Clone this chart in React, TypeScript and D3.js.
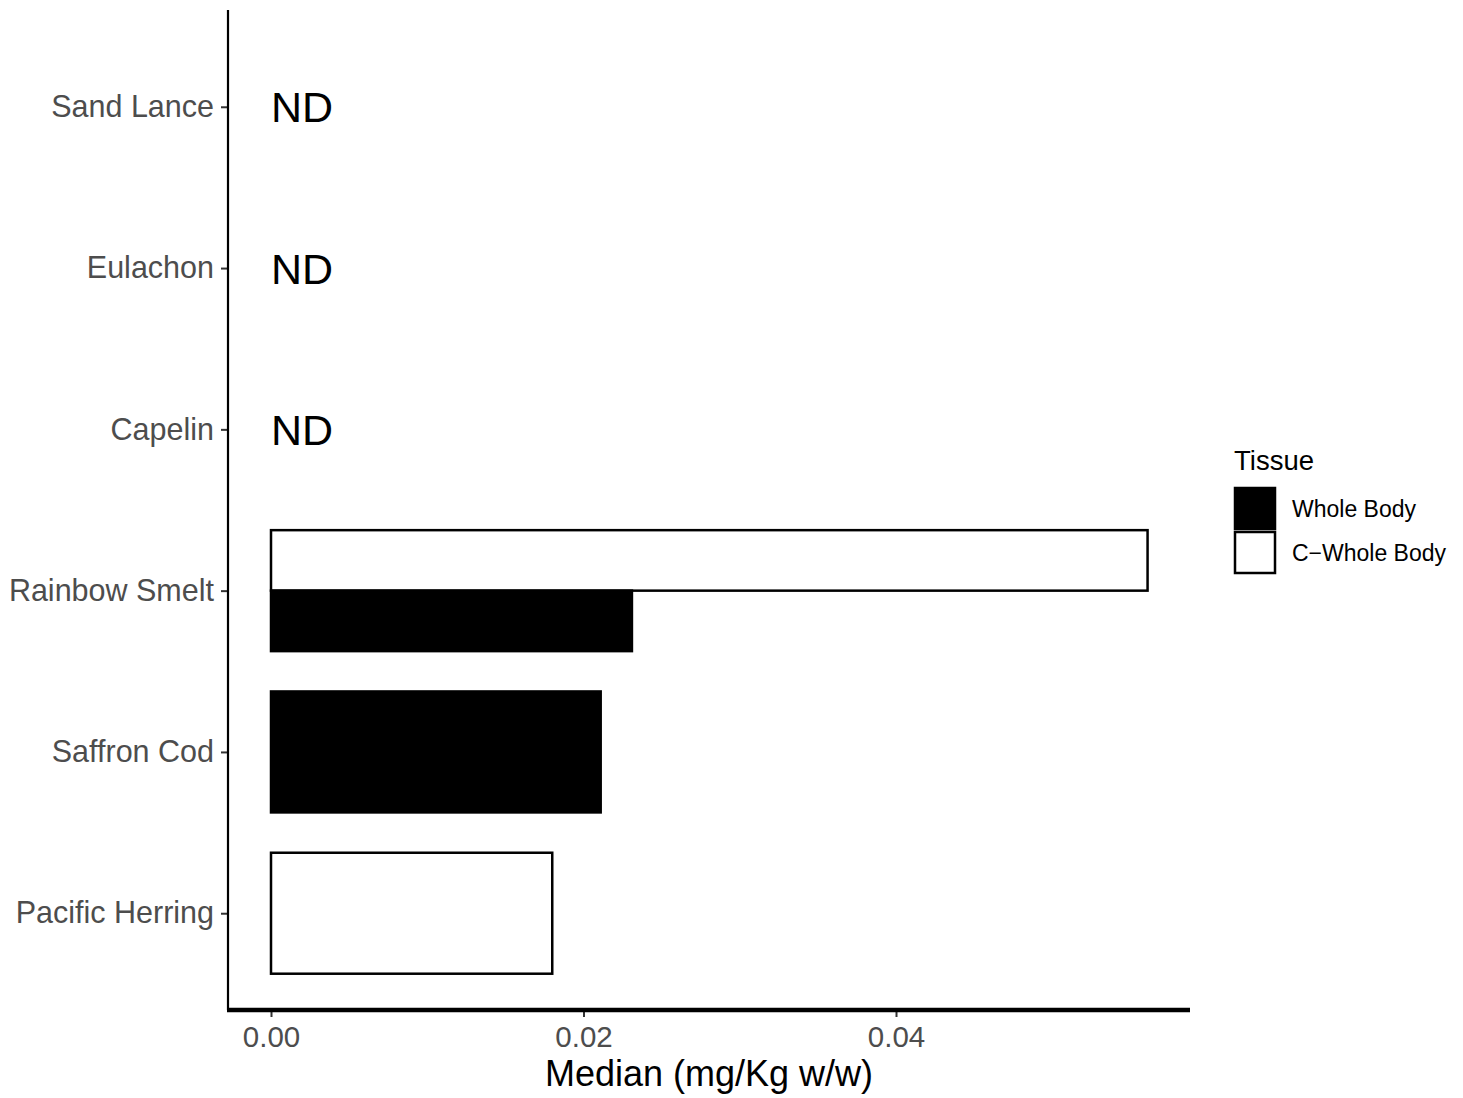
import { useEffect, useRef } from 'react';
import * as d3 from 'd3';

// species from top to bottom
const species = ['Sand Lance', 'Eulachon', 'Capelin', 'Rainbow Smelt', 'Saffron Cod', 'Pacific Herring'];
const tissues = ['Whole Body', 'C\u2212Whole Body'];
// median values (mg/Kg w/w), null = not measured
const wholeBody = [null, null, null, 0.0231, 0.0211, null];
const cWholeBody = [null, null, null, 0.0561, null, 0.0180];
const ndSpecies = ['Sand Lance', 'Eulachon', 'Capelin'];
const xTicks = [0, 0.02, 0.04];

const W = 1463;
const H = 1098;
const FONT = 'Liberation Sans, Arial, Helvetica, sans-serif';

export default function App() {
    const svgRef = useRef(null);

    useEffect(() => {
        const svg = d3.select(svgRef.current);
        svg.selectAll('*').remove();

        const panel = { left: 228, right: 1190, top: 10, bottom: 1010 };

        const x = d3.scaleLinear().domain([0, 0.04]).range([271, 896]);
        const y = d3.scalePoint().domain(species).range([panel.top, panel.bottom]).padding(0.6);
        const barW = y.step() * 0.75;
        const fill = d3.scaleOrdinal().domain(tissues).range(['#000000', '#ffffff']);

        // rows for the bars
        const rows = [];
        species.forEach((s, i) => {
            const present = [];
            if (cWholeBody[i] != null) present.push({ tissue: tissues[1], value: cWholeBody[i] });
            if (wholeBody[i] != null) present.push({ tissue: tissues[0], value: wholeBody[i] });
            const sub = d3.scaleBand().domain(present.map((p) => p.tissue))
                .range([y(s) - barW / 2, y(s) + barW / 2]);
            present.forEach((p) => rows.push({ species: s, ...p, y0: sub(p.tissue), h: sub.bandwidth() }));
        });

        // bars
        svg.append('g')
            .selectAll('rect')
            .data(rows)
            .join('rect')
            .attr('x', x(0))
            .attr('y', (d) => d.y0)
            .attr('width', (d) => x(d.value) - x(0))
            .attr('height', (d) => d.h)
            .attr('fill', (d) => fill(d.tissue))
            .attr('stroke', '#000')
            .attr('stroke-width', 2.5);

        // ND labels
        svg.append('g')
            .selectAll('text')
            .data(ndSpecies)
            .join('text')
            .attr('x', x(0))
            .attr('y', (d) => y(d))
            .attr('dy', '0.36em')
            .style('font-family', FONT)
            .style('font-size', '43px')
            .attr('fill', '#000')
            .text('ND');

        // y axis
        const yAxis = svg.append('g').attr('transform', `translate(${panel.left},0)`)
            .call(d3.axisLeft(y).tickSize(7).tickPadding(7));
        yAxis.select('.domain').remove();
        yAxis.selectAll('.tick line').attr('stroke', '#333').attr('stroke-width', 2);
        yAxis.selectAll('.tick text')
            .style('font-family', FONT)
            .style('font-size', '30.5px')
            .attr('fill', '#4d4d4d');
        svg.append('line')
            .attr('x1', panel.left).attr('x2', panel.left)
            .attr('y1', panel.top).attr('y2', panel.bottom)
            .attr('stroke', '#000').attr('stroke-width', 2.2);

        // x axis
        const xAxis = svg.append('g').attr('transform', `translate(0,${panel.bottom})`)
            .call(d3.axisBottom(x).tickValues(xTicks).tickFormat(d3.format('.2f')).tickSize(7).tickPadding(9));
        xAxis.select('.domain').remove();
        xAxis.selectAll('.tick line').attr('stroke', '#333').attr('stroke-width', 2);
        xAxis.selectAll('.tick text')
            .style('font-family', FONT)
            .style('font-size', '29.5px')
            .attr('fill', '#4d4d4d');
        svg.append('line')
            .attr('x1', panel.left - 1).attr('x2', panel.right)
            .attr('y1', panel.bottom).attr('y2', panel.bottom)
            .attr('stroke', '#000').attr('stroke-width', 4.5);

        // axis title
        svg.append('text')
            .attr('x', (panel.left + panel.right) / 2)
            .attr('y', 1086)
            .attr('text-anchor', 'middle')
            .style('font-family', FONT)
            .style('font-size', '36px')
            .text('Median (mg/Kg w/w)');

        // legend
        const lg = svg.append('g').attr('transform', 'translate(1234,0)');
        lg.append('text')
            .attr('x', 0).attr('y', 470)
            .style('font-family', FONT)
            .style('font-size', '27.5px')
            .text('Tissue');
        const keys = lg.selectAll('g.key').data(tissues).join('g')
            .attr('class', 'key')
            .attr('transform', (d, i) => `translate(0,${487 + i * 44})`);
        keys.append('rect')
            .attr('x', 1).attr('y', 1).attr('width', 40).attr('height', 41)
            .attr('fill', (d) => fill(d))
            .attr('stroke', '#000').attr('stroke-width', 2.5);
        keys.append('text')
            .attr('x', 58).attr('y', 22).attr('dy', '0.36em')
            .style('font-family', FONT)
            .style('font-size', '23px')
            .text((d) => d);
    }, []);

    return (
        <svg ref={svgRef} width={W} height={H}
            style={{ position: 'absolute', left: 0, top: 0, background: '#fff' }} />
    );
}
